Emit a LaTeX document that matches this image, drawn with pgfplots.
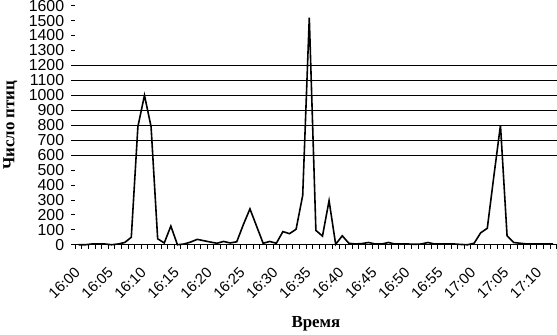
\documentclass[border=0pt]{standalone}
\usepackage{fontspec}
\setmainfont{Liberation Sans}
\newfontfamily\labfont{Liberation Serif}
\usepackage{pgfplots}
\usepackage{pgfplotstable}
\pgfplotsset{compat=1.18}

\pgfplotstableread{
m v
0 0
1 0
2 5
3 5
4 5
5 0
6 5
7 15
8 50
9 790
10 1000
11 790
12 40
13 12
14 125
15 0
16 5
17 18
18 36
19 27
20 18
21 10
22 22
23 12
24 20
25 135
26 240
27 125
28 10
29 22
30 10
31 88
32 74
33 104
34 330
35 1520
36 96
37 58
38 295
39 3
40 60
41 10
42 5
43 8
44 15
45 5
46 5
47 15
48 5
49 5
50 5
51 3
52 5
53 15
54 5
55 5
56 5
57 5
58 2
59 0
60 10
61 80
62 110
63 460
64 800
65 60
66 15
67 10
68 5
69 5
70 5
71 5
72 5
}\birds

\begin{document}
\begin{tikzpicture}
\begin{axis}[
  scale only axis,
  width=483bp, height=240bp,
  xmin=-0.5, xmax=72.5, ymin=0, ymax=1600,
  axis x line*=bottom, axis y line*=left,
  y axis line style={draw=none},
  x axis line style={black, line width=0.8bp, -},
  tick align=outside,
  major tick length=4bp,
  tick style={black, line width=0.8bp},
  /pgf/number format/assume math mode=true,
  /pgf/number format/1000 sep={},
  tick label style={font=\fontsize{15}{15}\selectfont, inner sep=0pt},
  ytick={0,100,...,1600},
  yticklabel style={font=\fontsize{16}{16}\selectfont, xshift=-7bp},
  extra y ticks={600,700,...,1200},
  extra y tick labels={},
  extra y tick style={grid=major, major grid style={black, line width=0.8bp}},
  xtick={-0.5,0.5,...,72.5},
  xticklabels={},
  extra x ticks={0,5,...,70},
  extra x tick labels={16:00,16:05,16:10,16:15,16:20,16:25,16:30,16:35,16:40,16:45,16:50,16:55,17:00,17:05,17:10},
  extra x tick style={major tick length=0pt, xticklabel style={yshift=-25bp, xshift=-1bp, rotate=45, anchor=east}},
  xlabel={\labfont\bfseries Время},
  ylabel={\labfont\bfseries Число птиц},
  label style={font=\fontsize{17}{17}\selectfont},
  xlabel style={yshift=-9bp},
  clip=false,
]
\addplot[black, line width=1.6bp, no markers] table[x=m, y=v] {\birds};
\end{axis}
\end{tikzpicture}
\end{document}
